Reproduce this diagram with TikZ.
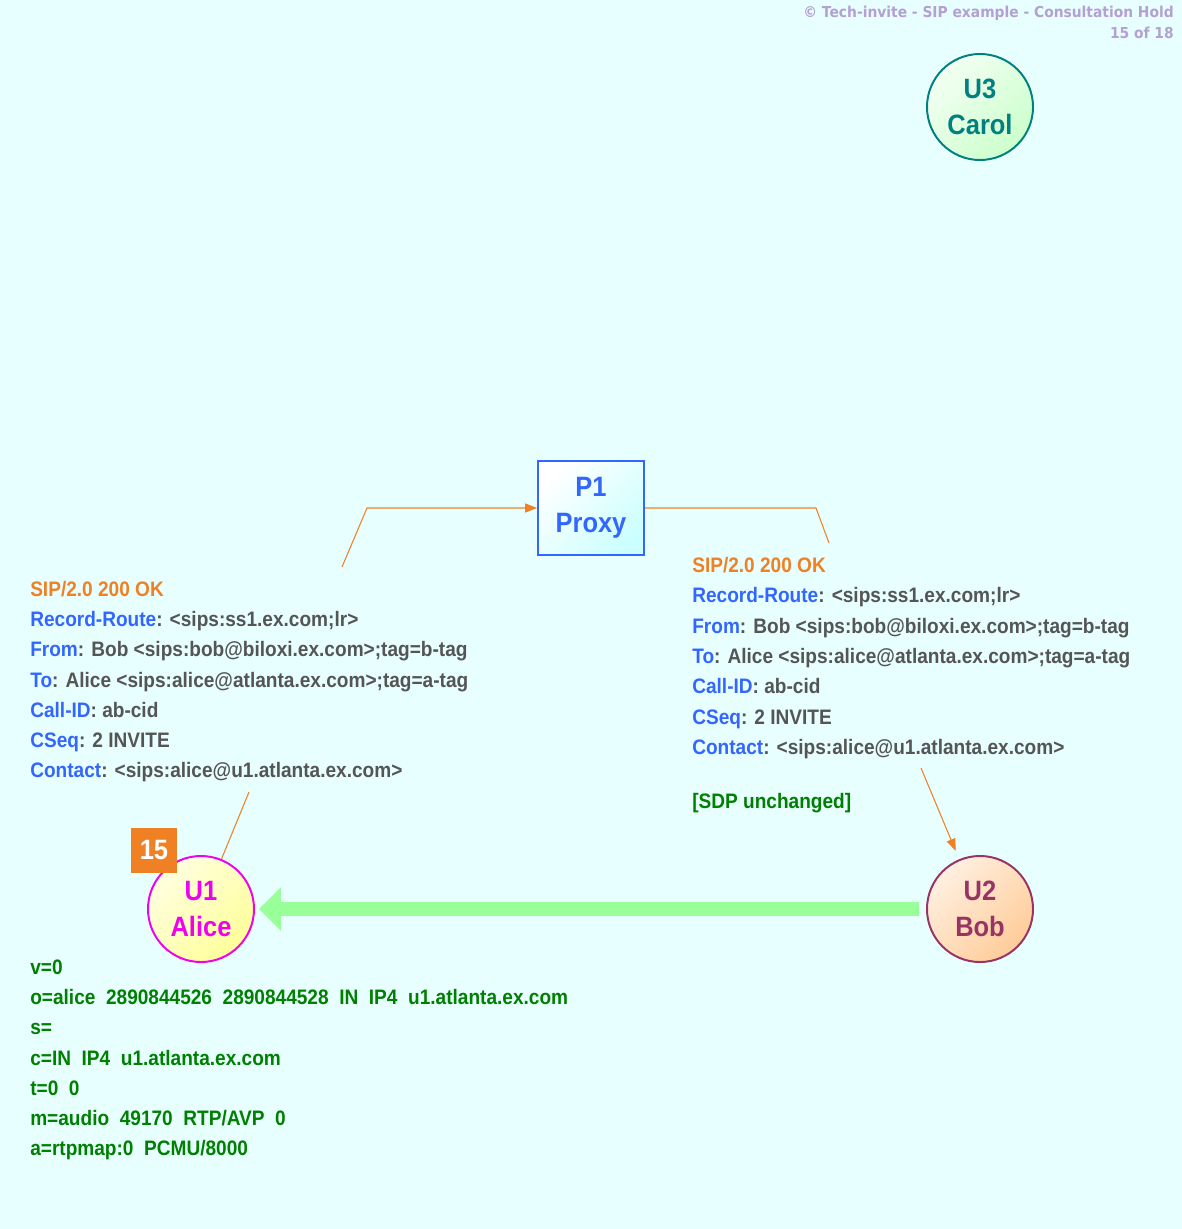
\documentclass[tikz,border=0pt]{standalone}
\usepackage{fontspec}
\setmainfont{Liberation Sans}[FakeStretch=0.91]
\newfontfamily\hdrfont{DejaVu Sans}[FakeStretch=0.92]
\usetikzlibrary{arrows.meta}

\definecolor{bgcyan}{RGB}{232,255,255}
\definecolor{hdrlilac}{RGB}{180,160,210}
\definecolor{sipblue}{RGB}{51,102,255}
\definecolor{sipgray}{RGB}{85,85,85}
\definecolor{siporange}{RGB}{240,128,36}
\definecolor{sdpgreen}{RGB}{0,128,0}
\definecolor{flowgreen}{RGB}{153,255,153}
\definecolor{bobred}{RGB}{153,51,102}
\definecolor{bobfill}{RGB}{255,204,153}
\definecolor{carolteal}{RGB}{0,128,128}
\definecolor{carolfill}{RGB}{204,255,204}
\definecolor{alicemag}{RGB}{240,0,240}
\definecolor{alicefill}{RGB}{255,255,153}
\definecolor{proxyfill}{RGB}{204,255,255}

\newcommand{\hf}[1]{\textcolor{sipblue}{#1}}

\begin{document}
\begin{tikzpicture}[x=0.025cm,y=-0.025cm,
  ua/.style={circle,minimum size=2.65cm,line width=1.4pt,inner sep=0pt,align=center,
    font=\bfseries\fontsize{19.9}{25.6}\selectfont,shading angle=45},
  msg/.style={anchor=west,inner sep=0pt,text height=10.7pt,text depth=0pt,
    font=\bfseries\fontsize{14.9}{18}\selectfont,text=sipgray},
  sdp/.style={msg,text=sdpgreen},
  hdr/.style={anchor=east,inner sep=0pt,text=hdrlilac,font=\hdrfont\bfseries\fontsize{10.7}{13}\selectfont},
  hop/.style={siporange,line width=0.75pt},
  hoptip/.style={hop,-{Triangle[length=8.5pt,width=6.5pt]}}]

\fill[bgcyan] (0,0) rectangle (1182,1229);
\useasboundingbox (0,0) rectangle (1182,1229);

\node[hdr] (hdr1) at (1174,13) {\textcopyright{} Tech-invite - SIP example - Consultation Hold};
\node[hdr] (hdr2) at (1174,33) {15 of 18};

% the three users and the proxy
\node[ua,draw=carolteal,text=carolteal,top color=carolfill!25,bottom color=carolfill,shading angle=45] (u3) at (980,107) {U3\\Carol};
\node[ua,draw=alicemag,text=alicemag,top color=alicefill!30,bottom color=alicefill,shading angle=45] (u1) at (201,909) {U1\\Alice};
\node[ua,draw=bobred,text=bobred,top color=bobfill!30,bottom color=bobfill,shading angle=45] (u2) at (980,909) {U2\\Bob};
\node[draw=sipblue,line width=1.4pt,minimum width=2.65cm,minimum height=2.35cm,inner sep=0pt,align=center,
  text=sipblue,font=\bfseries\fontsize{19.9}{25.6}\selectfont,
  top color=white,bottom color=proxyfill,shading angle=45] (p1) at (591,508) {P1\\Proxy};

\node[fill=siporange,text=white,minimum width=1.15cm,minimum height=1.125cm,inner sep=0pt,
  font=\bfseries\fontsize{19.9}{24}\selectfont] (n15) at (154,850) {15};

% media flow
\draw[flowgreen,line width=10pt,-{Triangle[length=15.6pt,width=30pt]},shorten <=5pt,shorten >=2.8pt] (u2) -- (u1);

% signalling path
\coordinate (l1a) at (249,792);
\coordinate (l1b) at (342,567);
\coordinate (l1c) at (367,508);
\coordinate (r1a) at (816,508);
\coordinate (r1b) at (829,543);
\coordinate (r2a) at (921,768);
\draw[hop] (u1) -- (l1a);
\draw[hoptip] (l1b) -- (l1c) -- (p1);
\draw[hop] (p1) -- (r1a) -- (r1b);
\draw[hoptip,shorten >=6.5pt] (r2a) -- (u2);

% 200 OK, P1 -> U1
\node[msg] (okl1) at (30,589) {\textcolor{siporange}{SIP/2.0 200 OK}};
\node[msg] (okl2) at (30,619) {\hf{Record-Route}: <sips:ss1.ex.com;lr>};
\node[msg] (okl3) at (30,649) {\hf{From}: Bob <sips:bob@biloxi.ex.com>;tag=b-tag};
\node[msg] (okl4) at (30,680) {\hf{To}: Alice <sips:alice@atlanta.ex.com>;tag=a-tag};
\node[msg] (okl5) at (30,710) {\hf{Call-ID}: ab-cid};
\node[msg] (okl6) at (30,740) {\hf{CSeq}: 2 INVITE};
\node[msg] (okl7) at (30,770) {\hf{Contact}: <sips:alice@u1.atlanta.ex.com>};

% 200 OK, U2 -> P1
\node[msg] (okr1) at (692,565) {\textcolor{siporange}{SIP/2.0 200 OK}};
\node[msg] (okr2) at (692,595) {\hf{Record-Route}: <sips:ss1.ex.com;lr>};
\node[msg] (okr3) at (692,626) {\hf{From}: Bob <sips:bob@biloxi.ex.com>;tag=b-tag};
\node[msg] (okr4) at (692,656) {\hf{To}: Alice <sips:alice@atlanta.ex.com>;tag=a-tag};
\node[msg] (okr5) at (692,686) {\hf{Call-ID}: ab-cid};
\node[msg] (okr6) at (692,717) {\hf{CSeq}: 2 INVITE};
\node[msg] (okr7) at (692,747) {\hf{Contact}: <sips:alice@u1.atlanta.ex.com>};
\node[sdp] (okr8) at (692,801) {[SDP unchanged]};

% SDP
\node[sdp] (sdp1) at (30,967) {v=0};
\node[sdp] (sdp2) at (30,997) {o=alice\ \ 2890844526\ \ 2890844528\ \ IN\ \ IP4\ \ u1.atlanta.ex.com};
\node[sdp] (sdp3) at (30,1027) {s=};
\node[sdp] (sdp4) at (30,1058) {c=IN\ \ IP4\ \ u1.atlanta.ex.com};
\node[sdp] (sdp5) at (30,1088) {t=0\ \ 0};
\node[sdp] (sdp6) at (30,1118) {m=audio\ \ 49170\ \ RTP/AVP\ \ 0};
\node[sdp] (sdp7) at (30,1148) {a=rtpmap:0\ \ PCMU/8000};

\end{tikzpicture}
\end{document}
